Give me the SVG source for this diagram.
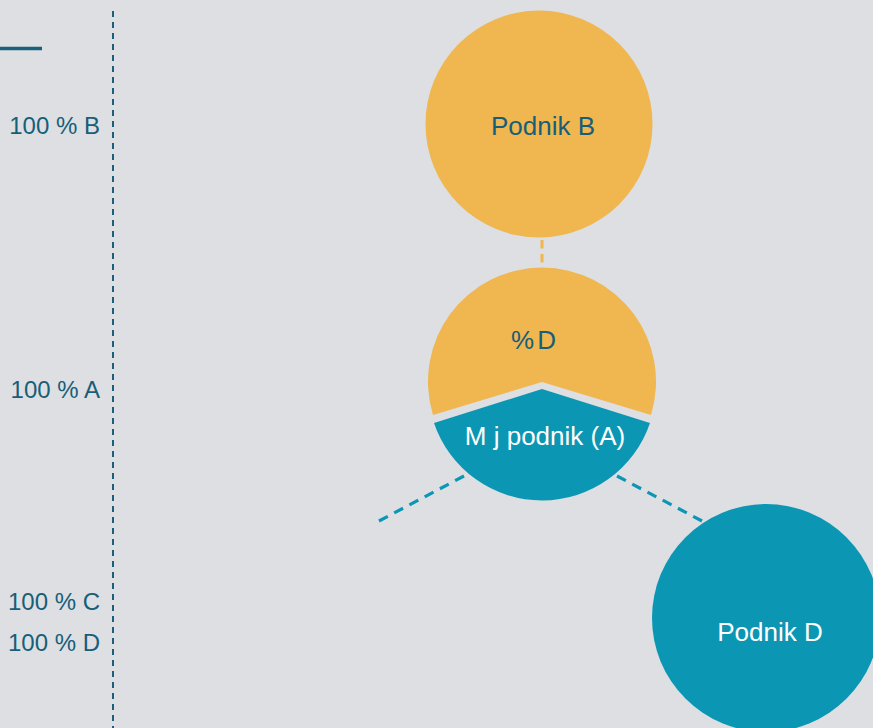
<svg xmlns="http://www.w3.org/2000/svg" width="873" height="728" viewBox="0 0 873 728">
<style>
.side{font-family:"Liberation Sans",Arial,sans-serif;font-size:24px;fill:#175e78;text-anchor:end}
.lbl{font-family:"Liberation Sans",Arial,sans-serif;font-size:26px;text-anchor:middle}
.dark{fill:#175e78}
.light{fill:#ffffff}
.yel{fill:#f0b650}
.teal{fill:#0b97b4}
</style>
<rect width="873" height="728" fill="#dddfe3"/>
<line x1="0" y1="48.5" x2="42" y2="48.5" stroke="#1b5f7a" stroke-width="3.5"/>
<line x1="113" y1="11" x2="113" y2="728" stroke="#1b5f7a" stroke-width="2" stroke-dasharray="6 5"/>
<g id="side-labels">
<text class="side" x="100" y="134">100 % B</text>
<text class="side" x="100" y="398">100 % A</text>
<text class="side" x="100" y="610">100 % C</text>
<text class="side" x="100" y="651">100 % D</text>
</g>
<g id="connectors">
<line x1="542" y1="226" x2="542" y2="263" stroke="#f0b650" stroke-width="3" stroke-dasharray="8.5 5.5"/>
<line x1="464" y1="476" x2="379" y2="521" stroke="#0b97b4" stroke-width="3.2" stroke-dasharray="10 7.24"/>
<line x1="617" y1="476" x2="702" y2="521" stroke="#0b97b4" stroke-width="3.2" stroke-dasharray="10 7.24"/>
</g>
<g id="node-b">
<circle class="yel" cx="539" cy="124" r="113.5"/>
<text class="lbl dark" x="543" y="135">Podnik B</text>
</g>
<g id="node-a">
<path class="yel" d="M433,415 L542,382 L651,415 A114,114 0 1 0 433,415 Z"/>
<path class="teal" d="M434,423 L542,389 L650,423 A114,114 0 0 1 434,423 Z"/>
<text class="lbl dark" x="511" y="349" style="text-anchor:start">%<tspan dx="3">D</tspan></text>
<text class="lbl light" x="545" y="445">M j podnik (A)</text>
</g>
<g id="node-d">
<circle class="teal" cx="766" cy="618" r="114"/>
<text class="lbl light" x="770" y="641">Podnik D</text>
</g>
</svg>
